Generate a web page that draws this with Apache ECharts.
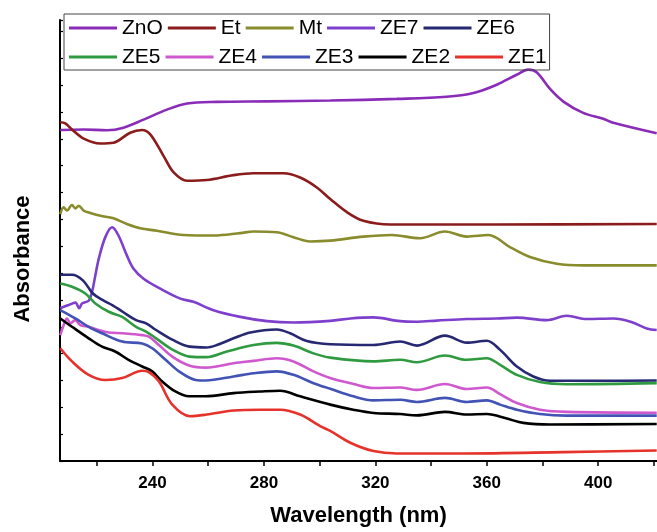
<!DOCTYPE html>
<html><head><meta charset="utf-8">
<script src="https://cdn.jsdelivr.net/npm/echarts@6/dist/echarts.min.js"></script>
<style>html,body{margin:0;padding:0;background:#fff}#c{width:657px;height:532px}</style>
</head><body><div id="c"></div>
<script>
// Wavelength (nm) / absorbance (arbitrary, stacked offsets) pairs
const seriesNames = ['ZnO','Et','Mt','ZE7','ZE6','ZE5','ZE4','ZE3','ZE2','ZE1'];
const xTickLabels = [240,280,320,360,400];
const xMinorTicks = [220,240,260,280,300,320,340,360,380,400,420];

const ZnO = [[206.9,12.33],[215.3,12.35],[223.7,12.32],[229.6,12.42],[236.8,12.72],[245.2,13.09],[252.4,13.32],[263.1,13.38],[281.1,13.40],[303.8,13.43],[327.7,13.49],[345.6,13.57],[355.2,13.71],[363.6,14.02],[370.7,14.39],[374.9,14.58],[377.9,14.48],[382.7,13.86],[387.5,13.39],[394.6,12.97],[401.8,12.75],[405.4,12.60],[421.0,12.21]];
const Et = [[206.9,12.62],[208.7,12.58],[211.1,12.35],[215.3,12.01],[221.3,11.83],[226.0,11.86],[232.0,12.23],[236.2,12.33],[239.2,12.17],[244.0,11.36],[247.6,10.75],[252.4,10.44],[259.5,10.47],[269.1,10.65],[276.3,10.72],[287.0,10.72],[293.0,10.56],[299.0,10.19],[303.8,9.76],[309.8,9.27],[315.7,8.95],[325.3,8.81],[363.6,8.81],[421.0,8.83]];
const Mt = [[206.9,9.20],[208.1,9.45],[209.3,9.33],[211.1,9.54],[212.3,9.41],[213.5,9.51],[215.3,9.33],[217.7,9.24],[221.3,9.14],[226.0,9.04],[230.8,8.83],[235.6,8.67],[241.6,8.58],[251.1,8.42],[261.9,8.40],[271.5,8.49],[276.3,8.55],[284.6,8.52],[290.6,8.34],[296.6,8.18],[303.8,8.21],[315.7,8.36],[325.9,8.42],[336.0,8.30],[345.0,8.55],[352.8,8.36],[360.6,8.42],[368.3,7.97],[375.5,7.60],[385.1,7.35],[394.6,7.29],[421.0,7.29]];
const ZE7 = [[206.9,5.69],[209.9,5.81],[212.3,5.90],[213.7,5.69],[214.7,5.87],[217.1,5.97],[218.3,6.30],[219.5,6.92],[220.7,7.53],[223.1,8.35],[225.5,8.71],[227.7,8.42],[230.8,7.66],[233.2,7.16],[236.8,6.79],[242.8,6.42],[250.0,6.05],[254.7,5.93],[261.9,5.62],[271.5,5.37],[281.1,5.21],[290.6,5.16],[303.8,5.22],[311.0,5.31],[319.3,5.35],[328.9,5.21],[334.9,5.19],[342.0,5.23],[352.8,5.29],[363.6,5.31],[370.8,5.34],[381.5,5.25],[388.7,5.41],[395.9,5.29],[405.4,5.31],[411.6,5.19],[417.4,4.94],[421.0,4.88]];
const ZE6 = [[206.9,6.94],[211.1,6.94],[215.0,6.73],[218.6,6.24],[222.2,5.99],[225.7,5.80],[229.3,5.56],[234.1,5.25],[237.7,5.13],[241.3,4.88],[247.3,4.51],[253.3,4.26],[259.3,4.23],[263.1,4.32],[269.1,4.57],[275.1,4.79],[284.6,4.90],[289.4,4.76],[295.4,4.47],[303.8,4.35],[319.3,4.32],[328.9,4.45],[334.9,4.30],[345.0,4.67],[352.8,4.41],[360.0,4.48],[364.8,4.14],[370.8,3.52],[376.7,3.15],[382.7,2.99],[400.7,2.99],[421.0,3.00]];
const ZE5 = [[206.9,6.61],[211.1,6.49],[215.9,6.24],[219.5,5.87],[224.3,5.56],[229.1,5.37],[234.1,5.00],[237.7,4.82],[241.3,4.57],[247.3,4.14],[253.3,3.89],[259.3,3.87],[266.7,4.08],[276.3,4.32],[284.6,4.40],[290.6,4.30],[297.8,4.01],[303.8,3.85],[319.3,3.71],[328.9,3.77],[334.9,3.68],[345.0,3.93],[352.8,3.77],[360.0,3.83],[364.8,3.58],[370.8,3.21],[379.1,2.94],[388.7,2.86],[421.0,2.90]];
const ZE4 = [[206.9,4.69],[208.1,5.06],[209.3,5.31],[210.5,5.13],[212.3,5.25],[214.1,5.06],[217.1,5.00],[220.7,4.88],[224.3,4.79],[229.1,4.76],[236.3,4.69],[238.7,4.63],[242.3,4.32],[247.1,3.89],[253.1,3.56],[259.1,3.48],[269.1,3.64],[276.3,3.73],[284.6,3.83],[290.6,3.71],[297.8,3.34],[303.8,3.09],[312.1,2.87],[319.3,2.72],[328.9,2.74],[334.9,2.65],[345.0,2.87],[352.8,2.68],[360.0,2.74],[364.8,2.49],[370.8,2.16],[379.1,1.91],[388.7,1.83],[421.0,1.80]];
const ZE3 = [[206.9,5.62],[212.3,5.31],[217.1,5.00],[221.9,4.76],[229.1,4.45],[236.3,4.38],[239.9,4.20],[244.7,3.77],[249.5,3.34],[255.5,3.02],[259.1,3.00],[269.1,3.15],[276.3,3.27],[284.6,3.34],[290.6,3.21],[297.8,2.90],[303.8,2.69],[312.1,2.41],[319.3,2.26],[328.9,2.28],[334.9,2.20],[345.0,2.35],[352.8,2.20],[360.0,2.26],[364.8,2.10],[370.8,1.91],[379.1,1.75],[388.7,1.69],[421.0,1.69]];
const ZE2 = [[206.9,5.31],[211.1,5.00],[217.1,4.57],[221.9,4.26],[226.6,4.08],[231.4,3.77],[236.3,3.52],[239.9,3.34],[243.4,2.97],[248.2,2.59],[253.1,2.41],[259.1,2.41],[269.1,2.53],[278.7,2.59],[285.8,2.62],[293.0,2.41],[303.8,2.10],[312.1,1.91],[319.3,1.79],[328.9,1.75],[334.9,1.70],[345.0,1.83],[352.8,1.73],[360.0,1.75],[367.2,1.58],[373.1,1.42],[382.7,1.36],[421.0,1.38]];
const ZE1 = [[206.9,4.20],[211.1,3.71],[217.1,3.21],[223.1,3.02],[229.1,3.09],[236.3,3.36],[238.7,3.31],[242.3,2.97],[247.1,2.10],[253.5,1.67],[259.5,1.73],[269.1,1.88],[278.7,1.91],[285.8,1.91],[293.0,1.73],[300.2,1.30],[303.8,1.12],[311.0,0.68],[319.3,0.37],[327.7,0.28],[351.6,0.28],[387.5,0.33],[421.0,0.39]];

const seriesData = [ZnO, Et, Mt, ZE7, ZE6, ZE5, ZE4, ZE3, ZE2, ZE1];
const colors = ['#8a2cb8','#8b1c1c','#898c2c','#7e40cc','#272872','#2f9a3f','#cf58cf','#4253b5','#000000','#e5322a'];

const chart = echarts.init(document.getElementById('c'), null, {renderer:'canvas'});
const FONT = 'Liberation Sans, Arial, Helvetica, sans-serif';
chart.setOption({
  animation:false,
  backgroundColor:'#fff',
  color: colors,
  grid:{left:60, right:0, top:20, bottom:69, containLabel:false},
  legend:{
    data: seriesNames,
    left:64, top:14,
    width:490,
    orient:'horizontal',
    itemGap:5,
    itemWidth:48, itemHeight:3,
    icon:'rect',
    padding:[2,3,1,5],
    borderColor:'#444', borderWidth:1,
    textStyle:{fontFamily:FONT, fontSize:21, color:'#000', lineHeight:24}
  },
  xAxis:{
    type:'value', min:206.8, max:421.1,
    name:'Wavelength (nm)', nameLocation:'middle', nameGap:44,
    nameTextStyle:{fontFamily:FONT, fontSize:22, fontWeight:'bold', color:'#000'},
    axisLine:{show:true, onZero:false, lineStyle:{color:'#000', width:2}},
    axisTick:{show:true, inside:false, length:5, customValues:xMinorTicks, lineStyle:{color:'#000', width:1.5}},
    axisLabel:{show:true, customValues:xTickLabels, margin:14, fontFamily:FONT, fontSize:17, fontWeight:'bold', color:'#000'},
    splitLine:{show:false}
  },
  yAxis:{
    type:'value', min:0, max:16.43, interval:1,
    axisLine:{show:true, onZero:false, lineStyle:{color:'#000', width:2}},
    axisTick:{show:true, inside:true, length:3, lineStyle:{color:'#000', width:1.2}},
    axisLabel:{show:false},
    splitLine:{show:false}
  },
  graphic:[{
    type:'text', x:12, y:259, rotation:Math.PI/2,
    style:{text:'Absorbance', fontFamily:FONT, fontSize:22, fontWeight:'bold', fill:'#000', textAlign:'center', textVerticalAlign:'top'}
  }],
  series: seriesNames.map((n,i)=>({
    name:n, type:'line', data:seriesData[i], showSymbol:false, symbol:'none',
    smooth:0.35, clip:true,
    lineStyle:{width:2.6, color:colors[i]}
  }))
});
</script></body></html>
